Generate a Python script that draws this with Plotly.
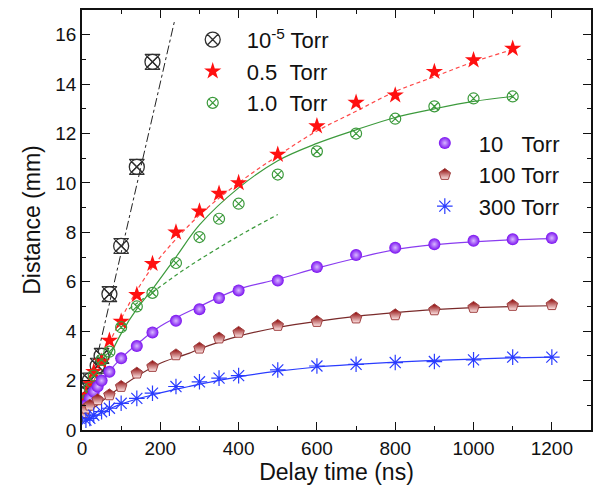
import plotly.graph_objects as go

# ---------------- data ----------------
t_vac = [10, 20, 40, 50, 70, 100, 140, 180]
d_vac = [1.6, 2.0, 2.6, 3.0, 5.5, 7.45, 10.65, 14.9]

t_05 = [10, 20, 30, 50, 70, 100, 140, 180, 240, 300, 350, 400, 500, 600, 700, 800, 900, 1000, 1100]
d_05 = [1.4, 1.9, 2.36, 2.77, 3.62, 4.39, 5.47, 6.73, 8.0, 8.85, 9.57, 10.0, 11.15, 12.3, 13.25, 13.55, 14.5, 14.97, 15.44]

t_10 = [10, 20, 30, 50, 70, 100, 140, 180, 240, 300, 350, 400, 500, 600, 700, 800, 900, 1000, 1100]
d_10 = [1.2, 1.7, 2.2, 2.84, 3.17, 4.16, 5.0, 5.55, 6.76, 7.81, 8.55, 9.16, 10.34, 11.28, 12.0, 12.6, 13.1, 13.42, 13.5]

t_10t = [10, 20, 30, 40, 50, 70, 100, 140, 180, 240, 300, 350, 400, 500, 600, 700, 800, 900, 1000, 1100, 1200]
d_10t = [1.0, 1.28, 1.55, 1.76, 2.0, 2.36, 2.9, 3.4, 3.95, 4.42, 4.89, 5.34, 5.65, 6.05, 6.6, 7.08, 7.38, 7.52, 7.66, 7.72, 7.77]

t_100 = [5, 10, 20, 40, 70, 100, 140, 180, 240, 300, 350, 400, 500, 600, 700, 800, 900, 1000, 1100, 1200]
d_100 = [0.7, 0.88, 1.0, 1.22, 1.42, 1.76, 2.3, 2.57, 3.04, 3.31, 3.72, 3.95, 4.23, 4.39, 4.53, 4.66, 4.86, 4.96, 5.04, 5.07]

t_300 = [10, 20, 30, 50, 70, 100, 140, 180, 240, 300, 350, 400, 500, 600, 700, 800, 900, 1000, 1100, 1200]
d_300 = [0.4, 0.47, 0.6, 0.74, 0.88, 1.08, 1.28, 1.49, 1.76, 1.95, 2.1, 2.2, 2.43, 2.59, 2.66, 2.73, 2.77, 2.84, 2.95, 2.95]

# fitted curves
fit_vac_t = [0, 237]
fit_vac_d = [0.3, 16.6]

fit_05_t = [0, 50, 100, 150, 200, 300, 400, 500, 600, 700, 800, 900, 1000, 1100]
fit_05_d = [0.6, 2.8, 4.5, 5.9, 7.0, 8.7, 10.0, 11.1, 12.1, 12.9, 13.7, 14.3, 14.9, 15.4]

fit_10_t = [0, 50, 100, 140, 180, 240, 300, 400, 500, 600, 700, 800, 900, 1000, 1100]
fit_10_d = [0.5, 2.3, 3.9, 4.9, 5.7, 7.0, 8.3, 9.8, 10.9, 11.6, 12.15, 12.65, 13.0, 13.3, 13.5]

fit_10b_t = [120, 200, 273, 400, 500]
fit_10b_d = [4.9, 5.81, 6.62, 7.85, 8.72]

fit_10t_t = [0, 50, 100, 150, 200, 300, 400, 500, 600, 700, 800, 900, 1000, 1100, 1200]
fit_10t_d = [0.6, 2.0, 2.9, 3.6, 4.2, 5.0, 5.7, 6.1, 6.55, 6.95, 7.3, 7.5, 7.62, 7.7, 7.75]

fit_100_t = [0, 100, 200, 273, 300, 400, 500, 600, 700, 800, 900, 1000, 1100, 1200]
fit_100_d = [0.5, 1.75, 2.7, 3.1, 3.28, 3.8, 4.15, 4.4, 4.6, 4.75, 4.87, 4.95, 5.0, 5.03]

fit_300_t = [0, 100, 200, 273, 300, 400, 500, 600, 700, 800, 900, 1000, 1100, 1200]
fit_300_d = [0.3, 1.05, 1.5, 1.76, 1.85, 2.15, 2.38, 2.55, 2.66, 2.75, 2.82, 2.87, 2.92, 2.95]

x_ticks = [0, 200, 400, 600, 800, 1000, 1200]
y_ticks = [0, 2, 4, 6, 8, 10, 12, 14, 16]

BLACK = "#303030"
RED = "#ff1010"
GREEN = "#3c9a3c"
PURPLE = "#7a10f0"
BROWN = "#8b0000"
BLUE = "#2a3cff"

fig = go.Figure()

# fit lines
fig.add_trace(go.Scatter(x=fit_vac_t, y=fit_vac_d, mode="lines", showlegend=False,
                         line=dict(color="#222222", width=1, dash="dashdot")))
fig.add_trace(go.Scatter(x=fit_05_t, y=fit_05_d, mode="lines", showlegend=False, line_shape="spline",
                         line=dict(color="#ff4848", width=1.2, dash="4px,3px")))
fig.add_trace(go.Scatter(x=fit_10_t, y=fit_10_d, mode="lines", showlegend=False, line_shape="spline",
                         line=dict(color=GREEN, width=1.2)))
fig.add_trace(go.Scatter(x=fit_10b_t, y=fit_10b_d, mode="lines", showlegend=False, line_shape="spline",
                         line=dict(color=GREEN, width=1.2, dash="4px,3px")))
fig.add_trace(go.Scatter(x=fit_10t_t, y=fit_10t_d, mode="lines", showlegend=False, line_shape="spline",
                         line=dict(color="#8a3cf0", width=1.2)))
fig.add_trace(go.Scatter(x=fit_100_t, y=fit_100_d, mode="lines", showlegend=False, line_shape="spline",
                         line=dict(color="#7a2a2a", width=1.2)))
fig.add_trace(go.Scatter(x=fit_300_t, y=fit_300_d, mode="lines", showlegend=False, line_shape="spline",
                         line=dict(color=BLUE, width=1.2)))

# data markers
fig.add_trace(go.Scatter(x=t_vac, y=d_vac, mode="markers", name="10<sup>-5</sup> Torr", legend="legend",
                         marker=dict(symbol="circle-x-open", size=15, color=BLACK, line=dict(width=1.3))))
fig.add_trace(go.Scatter(x=t_vac, y=d_vac, mode="markers", showlegend=False,
                         marker=dict(symbol="hourglass-open", size=15, color=BLACK, line=dict(width=1.1))))
fig.add_trace(go.Scatter(x=t_05, y=d_05, mode="markers", name="0.5\u00a0\u00a0Torr", legend="legend",
                         marker=dict(symbol="star", size=13, color=RED, line=dict(width=0))))
fig.add_trace(go.Scatter(x=t_10, y=d_10, mode="markers", name="1.0\u00a0\u00a0Torr", legend="legend",
                         marker=dict(symbol="circle-x-open", size=11, color=GREEN, line=dict(width=1.2))))
fig.add_trace(go.Scatter(x=t_10t, y=d_10t, mode="markers", name="10\u00a0\u00a0\u00a0Torr", legend="legend2",
                         marker=dict(symbol="circle", size=12, color=PURPLE, line=dict(width=0),
                                     gradient=dict(type="radial", color="#d8b8ff"))))
fig.add_trace(go.Scatter(x=t_100, y=d_100, mode="markers", name="100 Torr", legend="legend2",
                         marker=dict(symbol="pentagon", size=12, color=BROWN, line=dict(width=1, color="#a04040"),
                                     gradient=dict(type="vertical", color="#ffe8e8"))))
fig.add_trace(go.Scatter(x=t_300, y=d_300, mode="markers", name="300 Torr", legend="legend2",
                         marker=dict(symbol="asterisk-open", size=13, color=BLUE, line=dict(width=1.2, color=BLUE))))

axis_font = dict(family="Liberation Sans, Arial, sans-serif", size=19, color="#111111")
title_font = dict(family="Liberation Sans, Arial, sans-serif", size=23, color="#111111")
leg_font = dict(family="Liberation Sans, Arial, sans-serif", size=22, color="#111111")

fig.update_layout(
    width=595, height=498,
    margin=dict(l=82, r=2, t=10, b=68),
    paper_bgcolor="white", plot_bgcolor="white",
    xaxis=dict(range=[0, 1300], tickvals=x_ticks, ticks="inside", ticklen=8, tickwidth=1.3,
               tickcolor="#111111", showline=True, linecolor="#111111", linewidth=1.6, mirror="allticks",
               showgrid=False, zeroline=False, tickfont=axis_font,
               minor=dict(ticks="inside", dtick=100, ticklen=4, tickwidth=1.2, tickcolor="#111111", showgrid=False),
               title=dict(text="Delay time (ns)", font=title_font, standoff=6)),
    yaxis=dict(range=[0, 17], tickvals=y_ticks, ticks="inside", ticklen=8, tickwidth=1.3,
               tickcolor="#111111", showline=True, linecolor="#111111", linewidth=1.6, mirror="allticks",
               showgrid=False, zeroline=False, tickfont=axis_font,
               minor=dict(ticks="inside", dtick=1, ticklen=4, tickwidth=1.2, tickcolor="#111111", showgrid=False),
               title=dict(text="Distance (mm)", font=title_font, standoff=8)),
    legend=dict(x=0.19, y=0.979, xanchor="left", yanchor="top", bgcolor="rgba(0,0,0,0)",
                font=leg_font, itemwidth=58, tracegroupgap=0),
    legend2=dict(x=0.646, y=0.733, xanchor="left", yanchor="top", bgcolor="rgba(0,0,0,0)",
                 font=leg_font, itemwidth=58, tracegroupgap=0),
)

fig.write_html("out.html")
